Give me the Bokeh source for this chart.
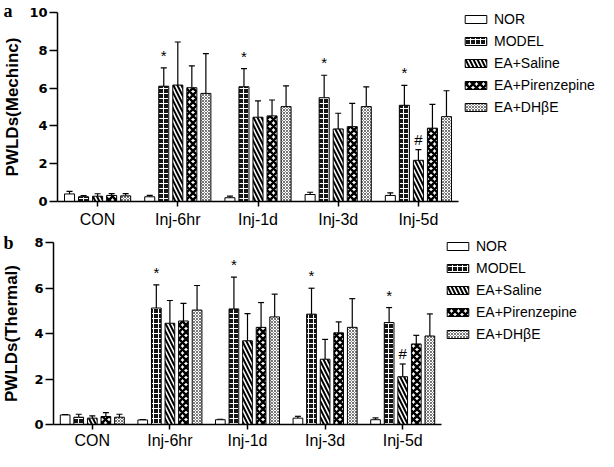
from bokeh.plotting import figure
from bokeh.models import (Range1d, ColumnDataSource, Whisker, TeeHead,
                          Legend, LegendItem, FixedTicker, Label)
from bokeh.transform import dodge
from bokeh.layouts import column
from bokeh.embed import file_html
from bokeh.resources import INLINE
from bokeh.core.properties import value

categories = ["CON", "Inj-6hr", "Inj-1d", "Inj-3d", "Inj-5d"]
groups = ["NOR", "MODEL", "EA+Saline", "EA+Pirenzepine", "EA+DHβE"]

# Panel a: PWLDs (mechanical)
mech_nor = [0.40, 0.25, 0.20, 0.37, 0.32]
mech_nor_err = [0.14, 0.07, 0.08, 0.12, 0.14]
mech_model = [0.25, 6.10, 6.07, 5.49, 5.09]
mech_model_err = [0.06, 0.97, 0.96, 1.19, 1.05]
mech_saline = [0.28, 6.16, 4.46, 3.84, 2.18]
mech_saline_err = [0.13, 2.28, 0.86, 0.83, 0.56]
mech_pir = [0.32, 6.02, 4.53, 3.96, 3.88]
mech_pir_err = [0.10, 1.16, 0.84, 1.23, 1.26]
mech_dh = [0.30, 5.72, 5.02, 5.02, 4.49]
mech_dh_err = [0.12, 2.10, 1.10, 1.05, 1.37]

# Panel b: PWLDs (thermal)
therm_nor = [0.42, 0.20, 0.21, 0.28, 0.21]
therm_nor_err = [0.02, 0.02, 0.02, 0.08, 0.08]
therm_model = [0.32, 5.12, 5.08, 4.85, 4.48]
therm_model_err = [0.13, 1.02, 1.40, 1.14, 0.66]
therm_saline = [0.28, 4.45, 3.68, 2.87, 2.10]
therm_saline_err = [0.10, 1.00, 1.19, 0.87, 0.56]
therm_pir = [0.35, 4.55, 4.27, 4.03, 3.54]
therm_pir_err = [0.17, 0.77, 1.09, 0.48, 0.38]
therm_dh = [0.32, 5.03, 4.73, 4.27, 3.89]
therm_dh_err = [0.13, 1.08, 1.00, 1.26, 0.97]

# significance marks
star_cats = ["Inj-6hr", "Inj-1d", "Inj-3d", "Inj-5d"]   # on MODEL bars
hash_cats = ["Inj-5d"]                                 # on EA+Saline bars

mech_ticks = [0, 2, 4, 6, 8, 10]
therm_ticks = [0, 2, 4, 6, 8]

offsets = [-0.35, -0.175, 0.0, 0.175, 0.35]
styles = [
    dict(fill_color="white"),
    dict(fill_color="#151515", hatch_pattern="cross", hatch_color="white",
         hatch_weight=1, hatch_scale=5),
    dict(fill_color="white", hatch_pattern="left_diagonal_line", hatch_color="black",
         hatch_weight=2, hatch_scale=8),
    dict(fill_color="white", hatch_pattern="diagonal_cross", hatch_color="black",
         hatch_weight=2.5, hatch_scale=7),
    dict(fill_color="white", hatch_pattern="diagonal_cross", hatch_color="#777777",
         hatch_weight=1, hatch_scale=3),
]

FIG_W = 598


def make_panel(vals, errs, ticks, ylabel, letter, height,
               ax_left, ax_right, y_top_px, y_zero_px, leg_x, leg_y,
               label_standoff, x_label_standoff, letter_top):
    # pixel layout (figure coordinates) -> ranges
    n = len(categories)
    ppu = (ax_right - ax_left) / n
    x0 = -0.5 - ax_left / ppu
    x1 = n - 0.5 + (FIG_W - ax_right) / ppu
    ppy = (y_zero_px - y_top_px) / ticks[-1]
    y_end = ticks[-1] + y_top_px / ppy
    y_start = -(height - y_zero_px) / ppy

    p = figure(x_range=Range1d(x0, x1), y_range=Range1d(y_start, y_end),
               width=FIG_W, height=height, output_backend="svg",
               toolbar_location=None, min_border=0)
    p.outline_line_color = None
    p.xgrid.visible = False
    p.ygrid.visible = False

    xi = list(range(n))
    items = []
    uppers = {}
    for i, g in enumerate(groups):
        up = [v + e for v, e in zip(vals[i], errs[i])]
        uppers[g] = up
        src = ColumnDataSource(dict(xi=xi, top=vals[i], upper=up))
        xs = dodge("xi", offsets[i])
        r = p.vbar(x=xs, top="top", bottom=0, width=0.125, source=src,
                   line_color="black", line_width=1, **styles[i])
        w = Whisker(base=xs, lower="top", upper="upper", source=src,
                    line_color="black", line_width=1.2,
                    upper_head=TeeHead(size=6, line_color="black", line_width=1.2),
                    lower_head=None)
        p.add_layout(w)
        items.append(LegendItem(label=g, renderers=[r]))

    # significance symbols
    s_x = [categories.index(c) for c in star_cats]
    s_up = [uppers["MODEL"][k] for k in s_x]
    ssrc = ColumnDataSource(dict(xi=s_x, y=s_up, t=["*"] * len(star_cats)))
    p.text(x=dodge("xi", offsets[1]), y="y", text="t", source=ssrc,
           text_align="center", text_baseline="bottom", y_offset=-4,
           text_font=value("Liberation Sans"), text_font_size="15px", text_color="black")
    h_x = [categories.index(c) for c in hash_cats]
    h_up = [uppers["EA+Saline"][k] for k in h_x]
    hsrc = ColumnDataSource(dict(xi=h_x, y=h_up, t=["#"] * len(hash_cats)))
    p.text(x=dodge("xi", offsets[2]), y="y", text="t", source=hsrc,
           text_align="center", text_baseline="bottom", y_offset=-2,
           text_font=value("Liberation Sans"), text_font_size="15px", text_color="black")

    legend = Legend(items=items, location=(leg_x, leg_y), orientation="vertical",
                    glyph_width=27, glyph_height=10, label_height=18, spacing=4,
                    padding=0, margin=0, label_standoff=5,
                    border_line_color=None, background_fill_alpha=0,
                    label_text_font="Liberation Sans", label_text_font_size="14px",
                    label_text_color="black")
    p.add_layout(legend)

    yax = p.yaxis[0]
    yax.fixed_location = -0.5
    yax.ticker = FixedTicker(ticks=ticks)
    yax.bounds = (0, ticks[-1])
    yax.minor_tick_line_color = None
    yax.major_tick_in = 0
    yax.major_tick_out = 8
    yax.axis_line_width = 1.5
    yax.major_tick_line_width = 1.5
    yax.major_label_standoff = 2
    yax.major_label_text_font = "DejaVu Sans"
    yax.major_label_text_font_style = "bold"
    yax.major_label_text_font_size = "13px"
    yax.major_label_text_color = "black"
    yax.axis_label = ylabel
    yax.axis_label_text_font = "Liberation Sans"
    yax.axis_label_text_font_style = "bold"
    yax.axis_label_text_font_size = "17px"
    yax.axis_label_text_color = "black"
    yax.axis_label_standoff = label_standoff

    xax = p.xaxis[0]
    xax.fixed_location = 0
    xax.ticker = FixedTicker(ticks=xi)
    xax.major_label_overrides = {k: c for k, c in zip(xi, categories)}
    xax.bounds = (-0.5, n - 0.5)
    xax.minor_tick_line_color = None
    xax.major_tick_in = 0
    xax.major_tick_out = 5
    xax.axis_line_width = 1.5
    xax.major_tick_line_width = 1.5
    xax.major_label_standoff = x_label_standoff
    xax.major_label_text_font = "Liberation Sans"
    xax.major_label_text_font_size = "16px"
    xax.major_label_text_color = "black"

    p.add_layout(Label(x=3, y=height - letter_top, x_units="screen", y_units="screen",
                       text=letter, text_font="Liberation Serif",
                       text_font_style="bold", text_font_size="18px",
                       text_baseline="top", text_align="left", text_color="black"))
    return p


# figure-pixel layout: panel a is 230 px tall, panel b 221 px below it
pa = make_panel([mech_nor, mech_model, mech_saline, mech_pir, mech_dh],
                [mech_nor_err, mech_model_err, mech_saline_err, mech_pir_err, mech_dh_err],
                mech_ticks, "PWLDs(Mechinc)", "a", 230,
                57, 458, 12, 201, 462, 114, 4, 4, 0)
pb = make_panel([therm_nor, therm_model, therm_saline, therm_pir, therm_dh],
                [therm_nor_err, therm_model_err, therm_saline_err, therm_pir_err, therm_dh_err],
                therm_ticks, "PWLDs(Thermal)", "b", 221,
                53, 441, 12, 194, 444, 108, 10, 2, 2)

layout = column(pa, pb, spacing=0)
open("out.html", "w").write(file_html(layout, INLINE))
